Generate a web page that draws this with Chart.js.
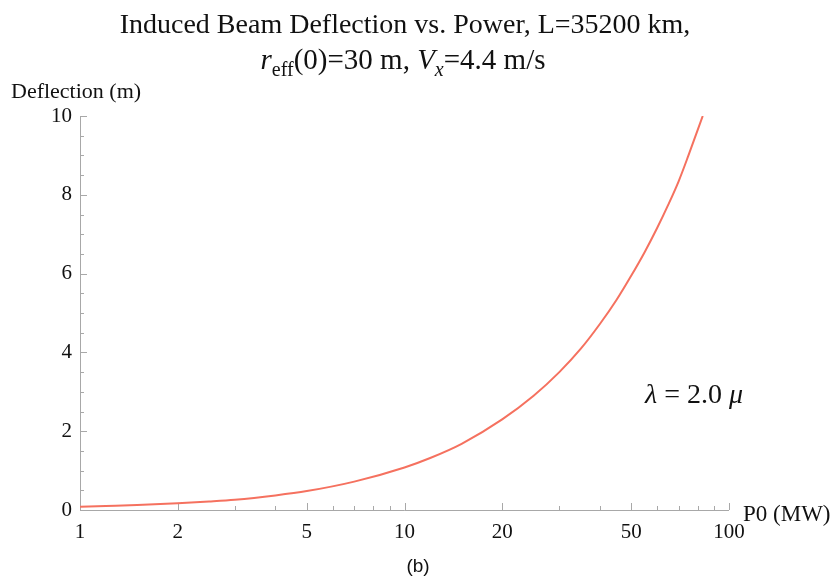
<!DOCTYPE html>
<html>
<head>
<meta charset="utf-8">
<script src="https://cdn.jsdelivr.net/npm/chart.js@4"></script>
<style>
  html, body { margin: 0; padding: 0; background: #fff; }
  #wrap { width: 835px; height: 586px; }
</style>
</head>
<body>
<div id="wrap"><canvas id="defl" width="835" height="586"></canvas></div>
<script>
// values
const power = [1, 1.2, 1.5, 2, 2.5, 3, 4, 5, 7, 10, 12, 15, 20, 25, 30, 35, 40, 45, 50, 55, 60, 65, 70, 75, 83];
const deflection = [0.08, 0.1, 0.125, 0.17, 0.215, 0.26, 0.37, 0.48, 0.72, 1.08, 1.32, 1.68, 2.3, 2.9, 3.5, 4.1, 4.72, 5.33, 5.95, 6.55, 7.15, 7.75, 8.35, 9.0, 10.0];
const xMajor = [1, 2, 5, 10, 20, 50, 100];
const xMinor = [3, 4, 6, 7, 8, 9, 30, 40, 60, 70, 80, 90];
const yMajor = [0, 2, 4, 6, 8, 10];

const serif = "'Liberation Serif', 'Times New Roman', serif";
const axisGrey = '#a8a8a8';

// Mathematica-style axes: inward ticks, title and labels with sub/italics
const decor = {
  id: 'decor',
  beforeDatasetsDraw(chart) {
    const { ctx, scales: { x, y } } = chart;
    const x0 = x.getPixelForValue(1), y0 = y.getPixelForValue(0);
    ctx.save();
    ctx.strokeStyle = axisGrey;
    ctx.lineWidth = 1;
    ctx.beginPath();
    ctx.moveTo(x0 + 0.5, y.getPixelForValue(10));
    ctx.lineTo(x0 + 0.5, y0 + 0.5);
    ctx.lineTo(x.getPixelForValue(100), y0 + 0.5);
    // y ticks every 0.5
    for (let v = 0; v <= 10; v += 0.5) {
      const py = Math.round(y.getPixelForValue(v)) + 0.5;
      const len = yMajor.includes(v) ? 7 : 4;
      ctx.moveTo(x0, py);
      ctx.lineTo(x0 + len, py);
    }
    xMajor.forEach(v => {
      const px = Math.round(x.getPixelForValue(v)) + 0.5;
      ctx.moveTo(px, y0);
      ctx.lineTo(px, y0 - 7);
    });
    xMinor.forEach(v => {
      const px = Math.round(x.getPixelForValue(v)) + 0.5;
      ctx.moveTo(px, y0);
      ctx.lineTo(px, y0 - 4);
    });
    ctx.stroke();
    ctx.restore();
  },
  afterDraw(chart) {
    const { ctx } = chart;
    ctx.save();
    ctx.fillStyle = '#111';
    ctx.textBaseline = 'alphabetic';

    // title line 1
    ctx.font = '28px ' + serif;
    ctx.textAlign = 'center';
    ctx.fillText('Induced Beam Deflection vs. Power, L=35200 km,', 405, 33);

    // title line 2 with italic symbols and subscripts
    const parts = [
      { t: 'r', f: 'italic 29px ' + serif, dy: 0 },
      { t: 'eff', f: '20px ' + serif, dy: 7 },
      { t: '(0)=30 m, ', f: '29px ' + serif, dy: 0 },
      { t: 'V', f: 'italic 29px ' + serif, dy: 0 },
      { t: 'x', f: 'italic 20px ' + serif, dy: 7 },
      { t: '=4.4 m/s', f: '29px ' + serif, dy: 0 }
    ];
    let w = 0;
    parts.forEach(p => { ctx.font = p.f; w += ctx.measureText(p.t).width; });
    let cx = 403 - w / 2;
    ctx.textAlign = 'left';
    parts.forEach(p => {
      ctx.font = p.f;
      ctx.fillText(p.t, cx, 69 + p.dy);
      cx += ctx.measureText(p.t).width;
    });

    // axis labels
    ctx.font = '22px ' + serif;
    ctx.fillText('Deflection (m)', 11, 98);
    ctx.font = '23px ' + serif;
    ctx.fillText('P0 (MW)', 743, 521);

    // lambda note
    ctx.font = 'italic 28px ' + serif;
    let lx = 645;
    ctx.fillText('\u03bb', lx, 403);
    lx += ctx.measureText('\u03bb').width;
    ctx.font = '28px ' + serif;
    ctx.fillText(' = 2.0 ', lx, 403);
    lx += ctx.measureText(' = 2.0 ').width;
    ctx.font = 'italic 28px ' + serif;
    ctx.fillText('\u03bc', lx, 403);

    // panel label
    ctx.font = "19px 'Liberation Sans', Arial, sans-serif";
    ctx.textAlign = 'center';
    ctx.fillText('(b)', 418, 572);
    ctx.restore();
  }
};

new Chart(document.getElementById('defl'), {
  type: 'line',
  data: {
    datasets: [{
      label: 'deflection',
      data: power.map((p, i) => ({ x: p, y: deflection[i] })),
      borderColor: '#f5715f',
      borderWidth: 2,
      pointRadius: 0,
      cubicInterpolationMode: 'monotone',
      fill: false
    }]
  },
  options: {
    responsive: false,
    animation: false,
    layout: { padding: { left: 0, right: 106, top: 116, bottom: 36 } },
    plugins: { legend: { display: false }, tooltip: { enabled: false } },
    scales: {
      x: {
        type: 'logarithmic',
        min: 1,
        max: 100,
        grid: { display: false, drawTicks: false },
        border: { display: false },
        afterFit: s => { s.height = 40; },
        afterBuildTicks: s => { s.ticks = xMajor.map(v => ({ value: v })); },
        ticks: {
          autoSkip: false,
          maxRotation: 0,
          padding: 10,
          color: '#111',
          font: { family: serif, size: 21 },
          callback: v => String(v)
        }
      },
      y: {
        min: 0,
        max: 10,
        grid: { display: false, drawTicks: false },
        border: { display: false },
        afterFit: s => { s.width = 80; },
        afterBuildTicks: s => { s.ticks = yMajor.map(v => ({ value: v })); },
        ticks: {
          padding: 8,
          color: '#111',
          font: { family: serif, size: 21 }
        }
      }
    }
  },
  plugins: [decor]
});
</script>
</body>
</html>
